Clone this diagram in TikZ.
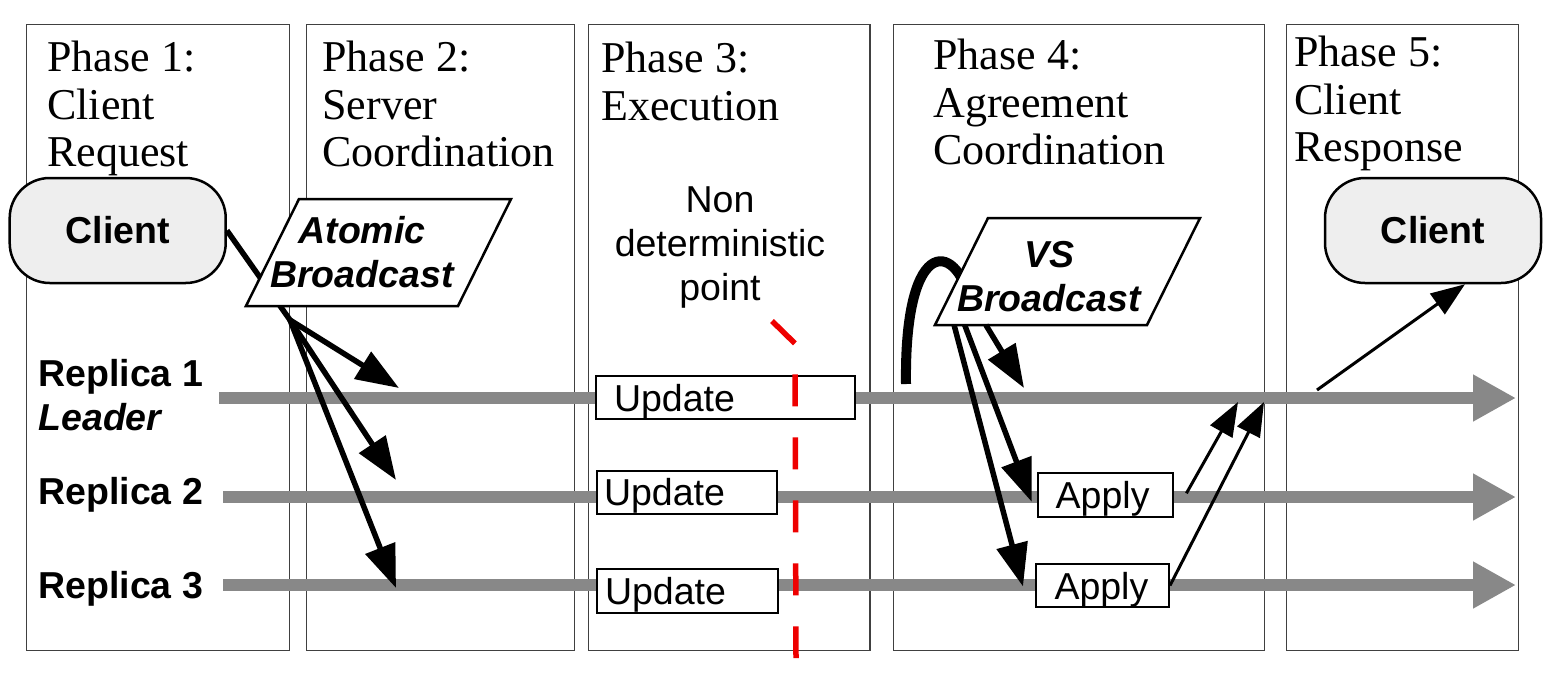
\documentclass[tikz,border=0pt]{standalone}
\usepackage{fontspec}
\setmainfont{Liberation Serif}
\setsansfont{Liberation Sans}
\usepackage{tikz}
\usetikzlibrary{arrows.meta,calc,positioning}
\definecolor{lanegray}{HTML}{888888}
\definecolor{clientfill}{HTML}{EEEEEE}
\definecolor{ndred}{HTML}{EE0000}
\newcommand{\sfbig}{\sffamily\fontsize{18.75pt}{22pt}\selectfont}

\begin{document}
\begin{tikzpicture}[
  x=0.5pt, y=-0.5pt,
  frame/.style  = {draw=black!75, line width=0.6pt, anchor=north west,
                   inner sep=0pt, outer sep=0pt, minimum height=313pt},
  title/.style  = {anchor=north west, inner sep=0pt, align=left,
                   font=\fontsize{22pt}{23.75pt}\selectfont},
  client/.style = {draw, fill=clientfill, line width=1.25pt, rounded corners=20pt,
                   minimum width=108pt, minimum height=52.5pt,
                   font=\sfbig\bfseries},
  pgram/.style  = {draw, fill=white, line width=1.25pt},
  bcast/.style  = {inner sep=0pt, align=center, font=\sfbig\bfseries\itshape},
  ubox/.style   = {draw, fill=white, line width=1pt, minimum height=21.8pt,
                   inner ysep=0pt, text depth=0pt, align=left, font=\sfbig},
  lbl/.style    = {anchor=west, inner sep=0pt, align=left, font=\sfbig\bfseries},
  lane/.style   = {draw=lanegray, line width=6pt,
                   -{Triangle[length=21.5pt,width=22pt]}},
  arr/.style    = {draw=black, line width=2.75pt,
                   -{Triangle[length=21.5pt,width=15.5pt]}},
  tarr/.style   = {draw=black, line width=1.5pt,
                   -{Triangle[length=17pt,width=12.5pt]}},
]
\useasboundingbox (0,0) rectangle (1552,680);

% phase frames and titles
\node[frame, minimum width=131.5pt] (f1) at (26.4,24.3) {};
\node[frame, minimum width=134pt]   (f2) at (306.5,24.3) {};
\node[frame, minimum width=140.8pt] (f3) at (588.4,24.3) {};
\node[frame, minimum width=185.5pt] (f4) at (893.8,24.3) {};
\node[frame, minimum width=115.8pt] (f5) at (1286.7,24.3) {};
\node[title, below right=8.35pt and 10.3pt of f1.north west] (t1) {Phase 1:\\Client\\Request};
\node[title, below right=8.35pt and 7.75pt of f2.north west] (t2) {Phase 2:\\Server\\Coordination};
\node[title, below right=8.85pt and 6.3pt of f3.north west]  (t3) {Phase 3:\\Execution};
\node[title, below right=7.35pt and 19.6pt of f4.north west] (t4) {Phase 4:\\Agreement\\Coordination};
\node[title, below right=5.85pt and 3.65pt of f5.north west] (t5) {Phase 5:\\Client\\Response};

\node[align=center, inner sep=0pt, font=\sfbig] (nd) at (720,247)
    {Non\\deterministic\\point};

% replicas
\node[lbl] (r1) at (38,395) {Replica 1\\\textit{Leader}};
\node[lbl] (r2) at (38,495) {Replica 2};
\node[lbl] (r3) at (38,589) {Replica 3};
\coordinate (s1) at (219,398);  \coordinate (e1) at (1516,398);
\coordinate (s2) at (223,497);  \coordinate (e2) at (1516,497);
\coordinate (s3) at (223,585);  \coordinate (e3) at (1516,585);
\draw[lane] (s1) -- (e1);
\draw[lane] (s2) -- (e2);
\draw[lane] (s3) -- (e3);

\node[ubox, inner xsep=9pt, text width=111.5pt]   (u1)  at (725.5,397.5) {Update};
\node[ubox, inner xsep=3.5pt, text width=82.85pt] (u2)  at (686.9,492.3) {Update};
\node[ubox, inner xsep=4pt, text width=82.25pt]   (u3)  at (687.25,590.8) {Update};
\node[ubox, inner xsep=9pt, text width=49.6pt]    (ap1) at (1105.3,494.8) {Apply};
\node[ubox, inner xsep=9.25pt, text width=48pt]   (ap2) at (1102.5,585.5) {Apply};

% non deterministic point
\coordinate (n1) at (772,321);
\coordinate (n2) at (795,343.5);
\coordinate (n3) at (796,658);
\draw[ndred, line width=2.75pt, dash pattern=on 16pt off 15.5pt] (n1) -- (n2) -- (n3);

% clients and broadcasts
\node[client] (cl1) at (117.7,230.5) {Client};
\node[client] (cl2) at (1433,230.5) {Client};
\coordinate (br) at (290,320);
\draw[line width=2.75pt] (cl1.east) -- (br);
\coordinate (lp) at (906,384);
\coordinate (le) at (972,310);
\draw[line width=5pt] (lp) .. controls +(-2,-154) and +(-12,-70) .. (le);

\coordinate (abc) at (378.5,252.5);
\filldraw[pgram] ($(abc)+(-132.5,53.5)$) -- ($(abc)+(79.5,53.5)$)
    -- ($(abc)+(132.5,-53.5)$) -- ($(abc)+(-79.5,-53.5)$) -- cycle;
\node[bcast] (ab) at ($(abc)+(-16.5,0)$) {Atomic\\Broadcast};

\coordinate (vsc) at (1067.5,271.5);
\coordinate (vsbl) at ($(vsc)+(-132.5,53.5)$);
\coordinate (vsbr) at ($(vsc)+(79.5,53.5)$);
\filldraw[pgram] (vsbl) -- (vsbr)
    -- ($(vsc)+(132.5,-53.5)$) -- ($(vsc)+(-79.5,-53.5)$) -- cycle;
\node[bcast] (vs) at ($(vsc)+(-18.5,5)$) {VS\\Broadcast};

\coordinate (a1) at (399,388);
\coordinate (a2) at (396,480);
\coordinate (a3) at (396,588);
\draw[arr] (br) -- (a1);
\draw[arr] (br) -- (a2);
\draw[arr] (br) -- (a3);

\coordinate (v1) at (1024,388);
\draw[arr] ($(vsbl)!0.24!(vsbr)$) -- (v1);
\draw[arr] ($(vsbl)!0.14!(vsbr)$) -- ([xshift=-2.5pt,yshift=-3.5pt]ap1.west);
\draw[arr] ($(vsbl)!0.09!(vsbr)$) -- ([xshift=-6pt,yshift=-0.5pt]ap2.west);

% replies
\coordinate (m1) at (1238,402);
\coordinate (m2) at (1264,402);
\draw[tarr] ([xshift=6.25pt,yshift=0.75pt]ap1.east) -- (m1);
\draw[tarr] (ap2.east) -- (m2);
\coordinate (rs) at (1317,390);
\draw[tarr] (rs) -- ([xshift=16pt]cl2.south);
\end{tikzpicture}
\end{document}
